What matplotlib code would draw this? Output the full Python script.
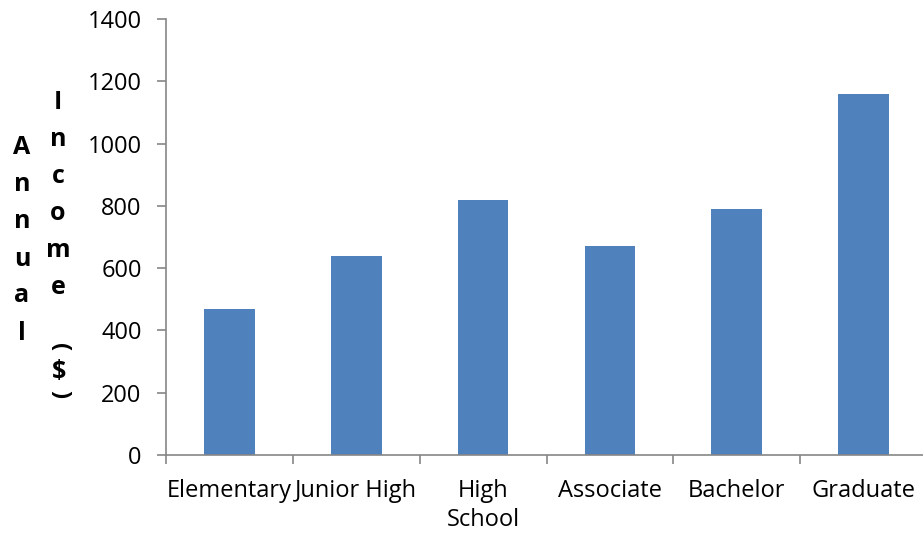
import numpy as np
import matplotlib.pyplot as plt

categories = ['Elementary', 'Junior High', 'High\nSchool', 'Associate', 'Bachelor', 'Graduate']
income = [470, 640, 820, 670, 790, 1160]
yticks = [0, 200, 400, 600, 800, 1000, 1200, 1400]

W, H = 923, 535
plt.rcParams['font.family'] = ['Open Sans', 'DejaVu Sans']

fig = plt.figure(figsize=(W / 100, H / 100), dpi=100)
# axes box in pixels: left 166, right ~927, top 19, bottom 455
ax = fig.add_axes([166 / W, 1 - 455 / H, (927 - 166) / W, (455 - 19) / H])

pos = np.arange(len(categories))
ax.bar(pos, income, width=0.4, color='#4F81BD', zorder=2)

ax.set_xlim(-0.5, len(categories) - 0.5)
ax.set_ylim(0, 1400)
ax.set_yticks(yticks)

# labels sit at category centres, tick marks at the boundaries
ax.set_xticks(pos)
ax.set_xticklabels(categories, fontsize=17, linespacing=1.3)
ax.set_xticks(np.arange(len(categories) + 1) - 0.5, minor=True)
ax.tick_params(axis='x', which='major', length=0, pad=17)
ax.tick_params(axis='x', which='minor', length=6.5, width=1.2, color='#868686', direction='out')
ax.tick_params(axis='y', length=6.5, width=1.2, color='#868686', pad=11, labelsize=17)

for s in ['top', 'right']:
    ax.spines[s].set_visible(False)
for s in ['left', 'bottom']:
    ax.spines[s].set_color('#868686')
    ax.spines[s].set_linewidth(1.2)

# stacked y-axis title, one glyph per line, two columns
def px(x, y):
    return x / W, 1 - y / H

for i, ch in enumerate('Annual'):
    fig.text(*px(22, 148 + i * 37), ch, ha='center', va='center',
             fontsize=18, fontweight='bold')
for i, ch in enumerate('Income'):
    fig.text(*px(58, 102 + i * 37.2), ch, ha='center', va='center',
             fontsize=18, fontweight='bold')
# brackets turned sideways, as in stacked vertical text
fig.text(*px(59, 347), '(', ha='center', va='center', fontsize=17,
         fontweight='bold', rotation=-90)
fig.text(*px(59, 371), '$', ha='center', va='center', fontsize=18,
         fontweight='bold')
fig.text(*px(59, 394), ')', ha='center', va='center', fontsize=17,
         fontweight='bold', rotation=-90)

fig.savefig('out.png', dpi=100)
